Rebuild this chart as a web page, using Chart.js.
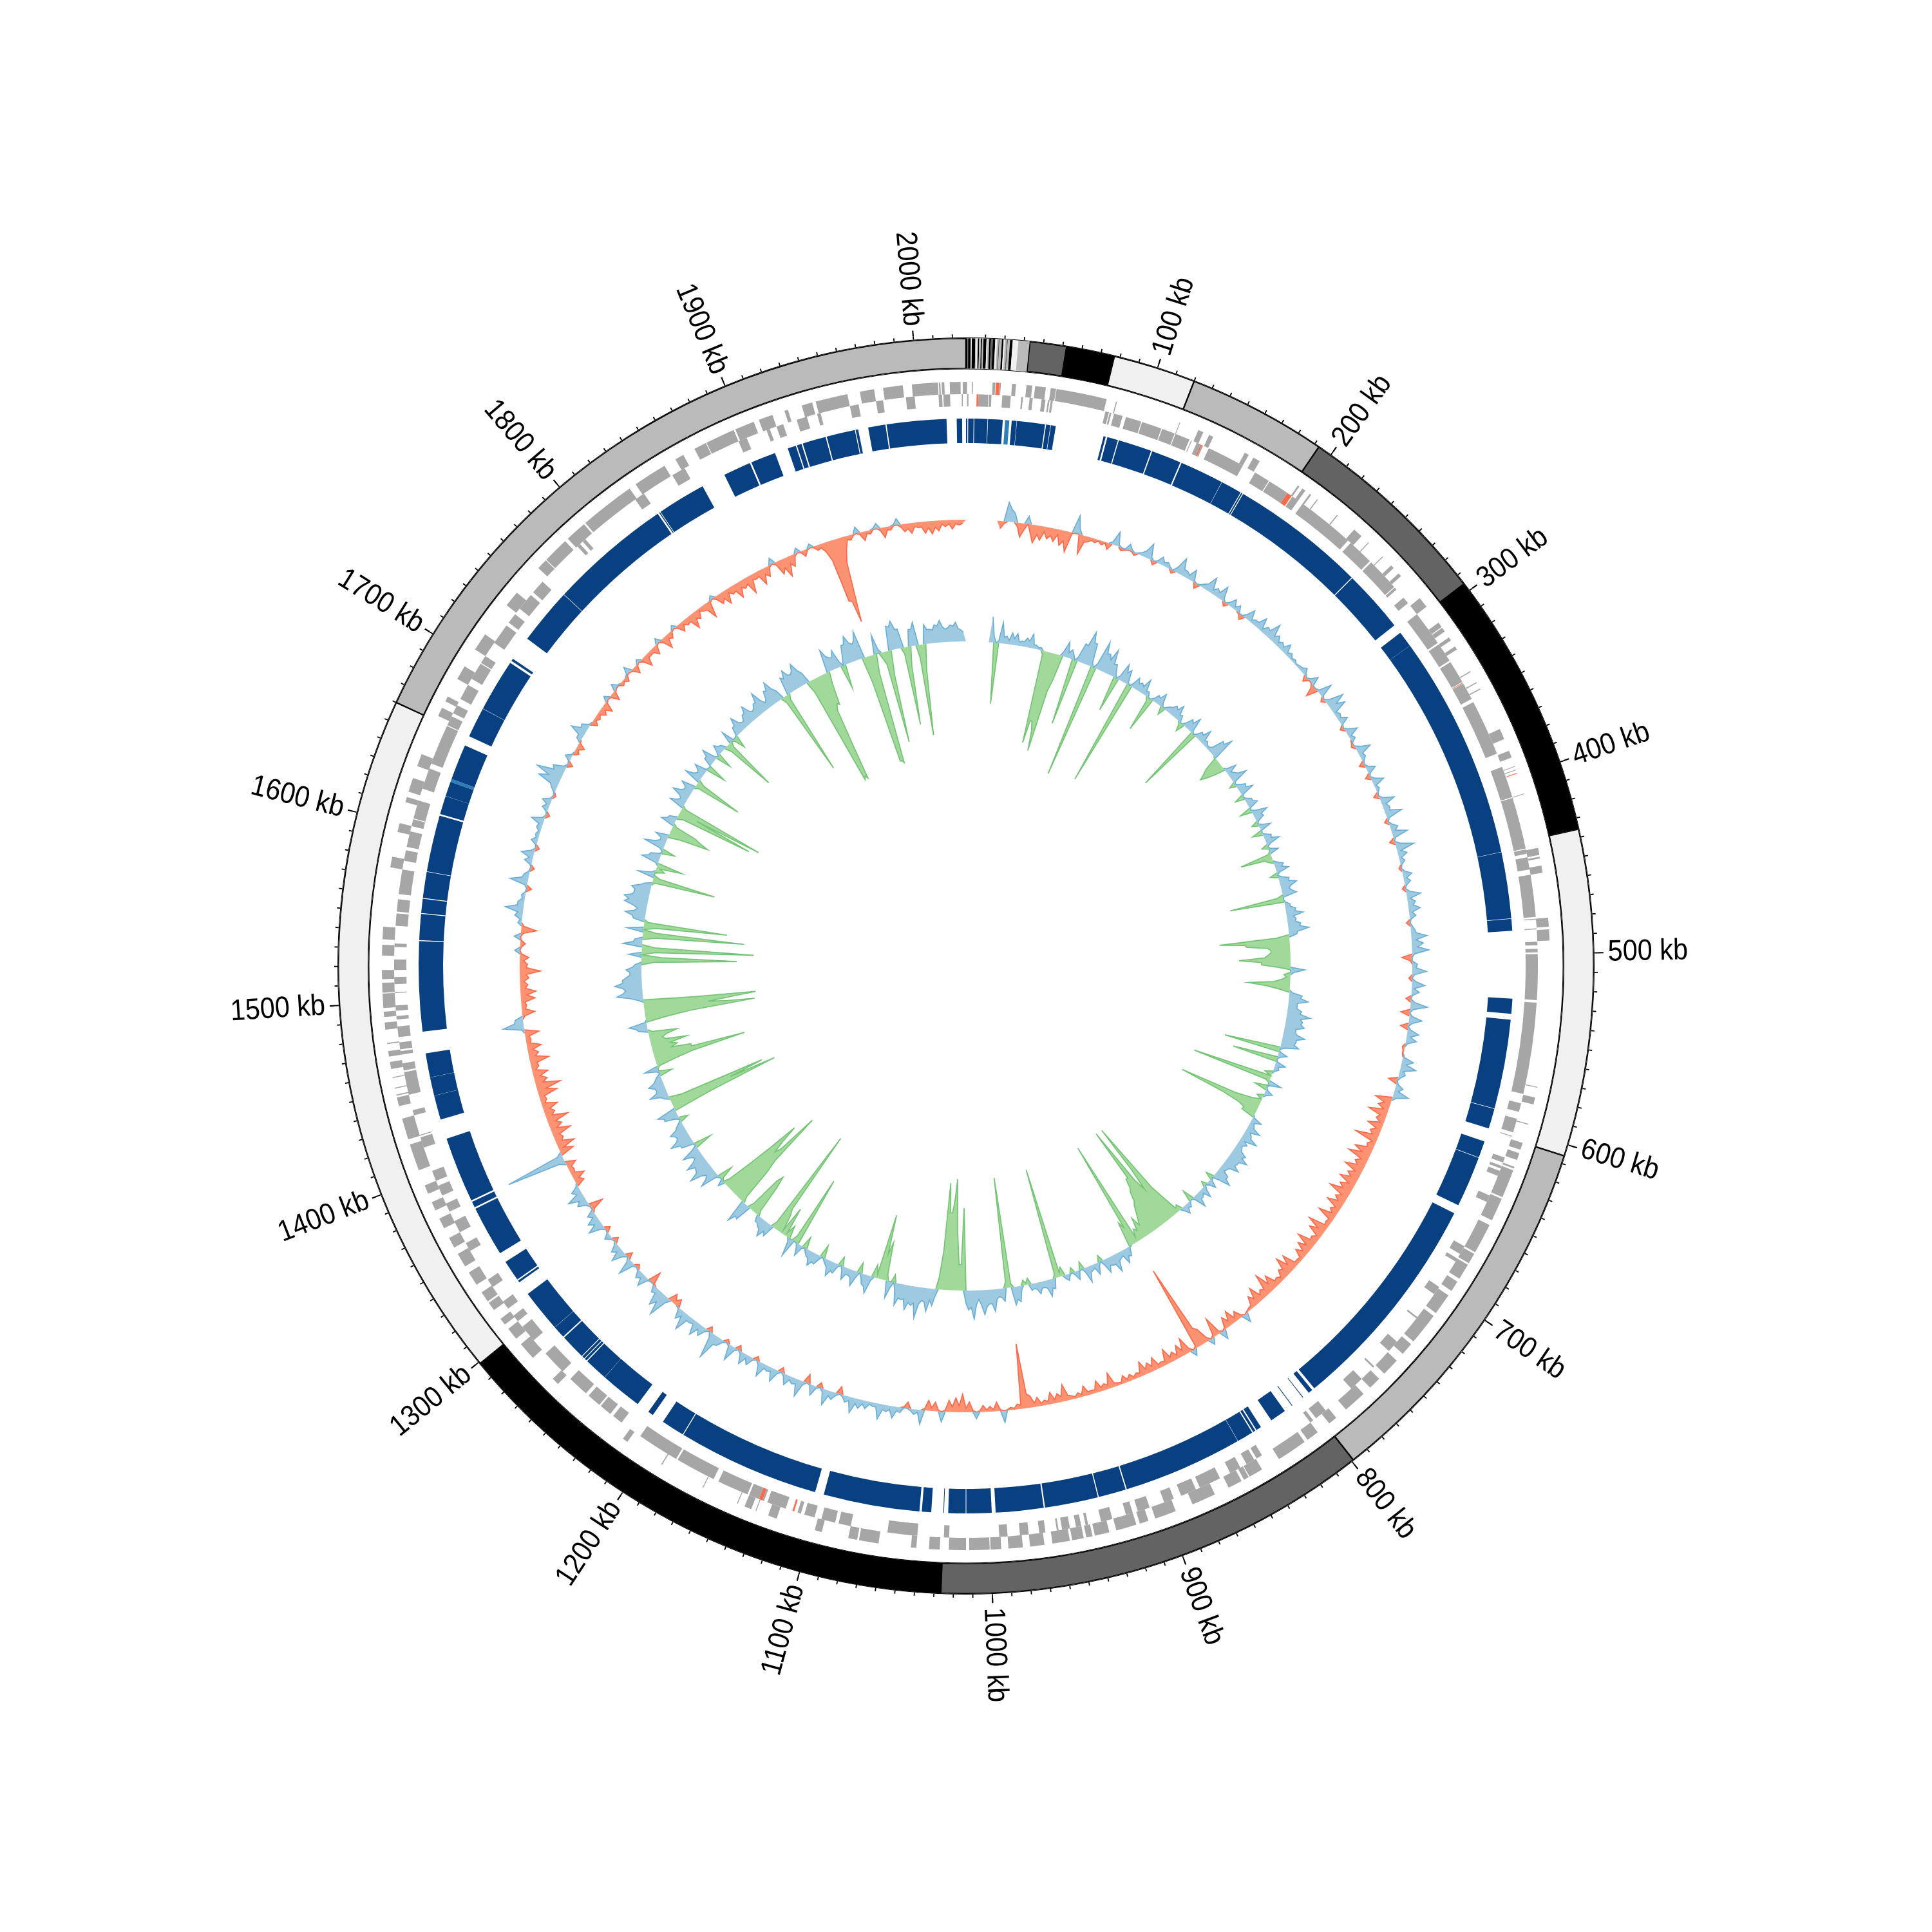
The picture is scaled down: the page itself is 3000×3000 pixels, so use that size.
<!DOCTYPE html>
<html><head><meta charset="utf-8">
<script src="https://cdn.jsdelivr.net/npm/chart.js@4"></script>
<style>html,body{margin:0;padding:0;background:#fff}canvas{position:absolute;left:0;top:0}</style>
</head><body>
<canvas id="rings" width="3000" height="3000"></canvas>
<canvas id="skew" width="3000" height="3000"></canvas>
<canvas id="content" width="3000" height="3000"></canvas>
<script>
const genomeKb = 2027;
const binKb = 2.5;
const tickLabels = ["100 kb","200 kb","300 kb","400 kb","500 kb","600 kb","700 kb","800 kb","900 kb","1000 kb","1100 kb","1200 kb","1300 kb","1400 kb","1500 kb","1600 kb","1700 kb","1800 kb","1900 kb","2000 kb"];
const majorTickKb = [100,200,300,400,500,600,700,800,900,1000,1100,1200,1300,1400,1500,1600,1700,1800,1900,2000];
const bandEnds = [.8,1.1,2.5,3,4.8,5.3,6.1,6.8,7.7,8.3,9,10.6,11.1,12,12.9,13.8,15.1,16,16.8,17.3,18.5,19.4,20.1,21,21.6,22.7,24.1,25,27,32.9,52,77,120,192.6,295.6,435.8,605.9,799,1026.5,1299,1660,2027];
const bandStains = ["k","d","k","l","k","m","l","k","m","k","m","k","l","m","k","d","k","l","m","d","m","k","l","m","d","m","k","l","l","m","d","k","l","m","d","k","l","m","d","k","l","m"];
const deepBlocks = [[0,.8],[1.3,4.5],[4.9,12.7],[13,21.7],[27,29.9],[30.1,46.8],[47.4,50],[50.3,53.2],[82,83.3],[84.3,90.7],[91.3,111.3],[112,129.8],[130.6,156.8],[157,169.5],[170,170.8],[171.3,252.2],[252.7,290],[295.6,305],[305.1,439],[439.2,478.6],[478.9,486],[526,535],[538.5,591.7],[592,604],[612,622],[622.3,652.7],[658,791],[792.6,795.2],[799.4,799.8],[807.4,807.8],[812.9,822.6],[829.9,833],[833.8,835.3],[836,845.7],[845.9,917.3],[918,934.4],[935,966.7],[967.5,996],[998.3,1013.3],[1013.7,1024],[1026.5,1026.9],[1034,1039.6],[1041,1098.3],[1103.6,1188.5],[1189,1202.8],[1210,1213.2],[1221,1246],[1246.1,1260],[1260.6,1262],[1262.5,1264],[1264.5,1279.5],[1280.3,1287.6],[1287.7,1313],[1321.5,1322.7],[1323.5,1336],[1342,1372],[1373,1376.5],[1377.5,1416.7],[1428.5,1443],[1443.1,1454],[1454.1,1468.5],[1481.4,1535],[1535.5,1551],[1551.5,1560],[1560.5,1576],[1576.3,1610],[1611,1622],[1622.1,1631],[1632.8,1654],[1660,1678],[1678.2,1709.6],[1711,1712.5],[1727,1760.7],[1761,1834],[1835,1835.6],[1836,1865],[1879.5,1896],[1897,1912],[1920,1925],[1925.7,1928.5],[1929.3,1943.3],[1944,1961],[1961.5,1963],[1969,1979.3],[1980,2015.5],[2021.5,2024.7]];
const paleBlocks = [[23.1,25.6],[1631,1632.8]];
const outerGenes = [[0,.6],[3.2,3.8],[14.7,16.2],[18.7,19.3],[25.5,27.7],[33.5,36.7],[38.3,44.3],[47,50],[50.3,78.5],[83.8,84.4],[120.8,121.2],[132,135],[138.5,141],[160.5,163],[166,170],[195,196],[198,200],[203,204],[208,208.6],[222,222.6],[234.5,240],[245,245.5],[256,256.5],[263,265],[269,271],[287,293],[304,307],[307.5,310],[314,316],[320,322],[336,336.6],[343,343.6],[347,347.6],[372,378],[385,389],[394,394.4],[396,396.4],[410,410.4],[441,445],[446,447],[451,455],[480,485],[486.5,492.7],[574,574.5],[580,584],[595,595.5],[606,610],[612,616],[620,621],[622,638],[639,652],[655,672],[673,679],[680,689],[691,697],[700,712],[714,732],[734,741],[746,756],[760,767],[772,785],[792,797],[805,812],[814,831],[842,850],[850.5,853.5],[855,863],[871.5,885],[895,907],[911,916],[918,929.5],[933.5,941.7],[943,946.5],[948,954.5],[955.8,965.5],[970,978],[982,990],[994,999.9],[1000.4,1011.7],[1013.5,1023],[1028,1034],[1041,1044],[1062,1073],[1074,1079],[1094,1098],[1120,1125],[1132,1132.5],[1135,1139],[1143,1143.5],[1164,1164.5],[1190,1190.6],[1213,1216],[1263,1267],[1283,1293],[1297,1304],[1307,1311],[1317,1322],[1323,1329],[1334,1342],[1346,1354],[1358,1364],[1370,1376],[1381,1386],[1391,1396],[1405,1420],[1423,1435],[1442,1447],[1448,1448.6],[1452,1452.5],[1458,1458.5],[1463,1467],[1470,1473],[1477,1477.6],[1485,1489],[1492,1495],[1497,1505],[1505.5,1511],[1513,1518],[1526,1532],[1535,1542],[1575,1581],[1595,1600],[1612,1615],[1618,1626],[1633,1640],[1663,1668],[1672,1675],[1686,1694],[1705,1715],[1735,1744],[1762,1768],[1768.4,1783],[1785,1797],[1798,1829],[1833,1852],[1859,1864],[1871,1878],[1878.4,1895],[1896,1907],[1910,1918],[1925,1927],[1935,1941],[1943,1961],[1968,1976],[1981,1992],[1997,2011.5],[2012,2012.8],[2013.5,2015],[2018,2024],[2025.2,2027]];
const innerGenes = [[.6,1.4],[7,12.6],[13,14.4],[20.5,25.3],[31.3,32.2],[36,37.8],[42.8,45],[46.4,47.3],[48,49.2],[79.5,81.5],[82,83],[84.5,89.5],[91.5,100.5],[101,112.5],[113,120.5],[121,129.5],[130.5,131],[134,136.4],[137.2,138],[141.5,163],[171,180],[180.5,192.5],[196,200],[203,236],[238,253],[254,273],[273.5,275],[281,285],[293,313],[314,325],[326,339],[340,350],[352,384],[392,410],[410.5,440],[440.5,443],[445,452],[455,479],[480,480.5],[485.5,486],[493,495],[497,499],[500,526],[527.5,579.6],[585,590],[594,602],[604,604.5],[617,620],[622,623.5],[625,628],[640,644],[672,677],[680,682],[699,704],[720,721],[738,745],[757,758],[767,775],[794,801],[803,805],[838,841.5],[843,848],[852,858.5],[865,877.5],[880,889],[893.5,899.3],[908,915],[918,922],[930,936.5],[944,945.5],[948,951],[954.5,959],[961,962],[968.5,972],[978,983],[990,994.7],[1023,1026],[1041,1058],[1079,1086],[1088,1096],[1100,1106],[1108,1110],[1117,1128],[1130,1131],[1133,1139],[1140,1158],[1161,1184],[1185,1209],[1222,1228],[1230,1237],[1238,1246],[1248,1260],[1266,1280],[1290,1300],[1304,1308],[1313,1318],[1328,1333],[1352,1357],[1364,1371],[1377,1382],[1387,1393],[1396,1402],[1416,1422],[1423,1423.5],[1435,1438],[1447,1460],[1461,1465],[1470,1472],[1473,1477],[1480,1486],[1490,1492],[1495,1498],[1505,1505.5],[1510,1514],[1518,1524],[1531,1533],[1543,1550],[1551,1558],[1561,1575],[1580,1586],[1588,1597],[1600,1604],[1604.5,1615],[1622,1634],[1637,1660],[1660.5,1666],[1668,1673],[1677,1686],[1690,1700],[1700.5,1705],[1714,1726],[1728,1734],[1738,1748],[1750,1758],[1786,1788],[1790,1792],[1828,1834],[1853,1861],[1895,1900],[1912,1914],[1918,1922],[1930,1936],[1942,1944],[1961,1966],[1976,1980],[1993,1998],[2011.5,2013.5],[2014.2,2018],[2024.6,2025.2]];
const redOuterGenes = [[16.5,18.6],[398,398.4],[650,650.5],[778,778.5],[780,780.4],[1665,1665.4]];
const redInnerGenes = [[6,7],[136.4,137.2],[149,149.5],[192.5,195.5],[339.4,339.8],[1112,1113],[1131,1133],[1225,1225.5]];
const skewAtBin = [
null,null,null,null,null,-12,30,14,-22,12,
-28,-22,-18,-20,-24,-32,28,-30,-8,-6,
-6,-10,22,-5,10,-4,5,24,-6,12,
8,-5,26,10,18,-8,6,24,12,22,
-6,14,10,-8,18,8,20,12,26,14,
10,16,8,5,4,10,-8,14,-18,22,
-6,28,24,8,14,-6,18,8,-5,22,
8,-8,14,-8,18,6,-8,22,10,26,
-6,12,24,-8,28,14,8,-4,14,10,
-5,22,12,18,10,-6,6,24,18,26,
-16,8,22,-5,20,12,-8,26,-14,20,
-12,18,16,-4,-2,18,24,10,-14,12,
24,-26,-18,-30,-14,-24,-16,-36,-12,-28,
-34,-18,-30,-20,-28,-22,-34,-18,-26,-14,
-28,-8,-32,-24,-12,-30,-22,-18,-6,-26,
-30,-16,-10,-24,-34,-14,-26,-18,-4,14,
-14,-22,-18,14,-30,10,-24,-137,10,-26,
-20,-14,-24,-8,-20,-16,-22,-8,-10,-12,
-4,-24,-10,-18,-6,-16,-8,-6,-26,-14,
-18,-8,-14,-18,-101,-8,-4,18,-14,-8,
-10,10,-16,-28,-22,-18,16,-14,-16,22,
8,-10,8,18,10,24,6,12,14,24,
10,-12,12,24,-8,16,-14,26,10,16,
-8,20,8,22,-6,14,18,-8,24,-6,
12,40,-8,16,22,8,28,16,-12,-14,
36,26,10,-20,18,12,-6,26,-10,22,
14,-8,10,-8,24,18,12,-22,16,26,
14,-14,-20,-8,-16,94,-22,-28,-14,-30,
-20,-34,-16,-24,-10,-30,-38,-20,-24,-12,
-30,-16,-22,-8,-22,32,12,-20,-8,-22,
-24,-12,-14,-32,-12,-14,8,-8,10,-24,
6,12,28,10,6,-8,28,8,-6,12,
20,-6,10,6,8,20,-6,10,14,-4,
8,34,42,20,-8,10,-8,-12,8,24,
12,-10,-8,-12,-16,8,-14,10,-6,-8,
12,-12,6,-18,-6,-14,8,-20,-10,6,
-14,-10,-24,-14,-8,-26,6,-16,-22,-12,
-24,-14,-28,-10,-24,-16,10,-22,-30,-18,
8,-10,6,-8,-14,-98,-134,-20,-8,10,
-14,-6,8,-16,-6,10,-12,-16,-8,-18,
-20,-16,-10,-14,-8];
const skewBetween = [
null,null,null,null,null,-4,20,-6,-10,-14,
-14,-8,-12,-8,-16,-2,8,-10,-4,-2,
-2,4,3,-2,3,2,10,4,3,5,
3,8,10,6,3,2,10,6,8,4,
5,4,-2,6,4,8,4,10,8,6,
6,4,3,2,5,3,4,-5,3,3,
8,12,4,5,2,6,4,-2,8,6,
3,4,3,6,3,2,5,6,8,4,
4,6,3,8,6,4,2,4,5,3,
6,5,8,5,2,3,8,7,9,4,
-3,6,4,6,4,2,6,5,4,6,
5,6,3,-2,2,8,6,4,3,6,
6,-10,-8,-10,-6,-8,-10,-6,-10,-14,
-10,-12,-10,-12,-10,-14,-10,-10,-8,-8,
-6,-6,-12,-6,-10,-10,-8,-5,-6,-12,
-12,-6,-8,-12,-10,-8,-10,-5,-2,-4,
-6,-8,-3,-4,-4,-6,-30,-4,-6,-8,
-6,-8,-6,-6,-8,-8,-6,-4,-4,-3,
-6,-6,-6,-5,-5,-4,-3,-8,-8,-6,
-5,-4,-6,-22,-6,-2,-1,-2,-3,-3,
-2,-3,-6,-10,-8,-3,-2,-5,-3,4,
3,-2,6,6,8,6,4,6,8,6,
3,4,8,5,3,2,5,8,6,4,
5,6,6,5,3,6,4,5,3,3,
14,8,5,8,6,8,8,2,-6,8,
16,8,-2,2,7,3,4,6,6,8,
4,3,2,6,10,6,-4,4,10,8,
3,-8,-6,-6,10,8,-8,-10,-10,-10,
-12,-10,-10,-6,-8,-14,-12,-10,-6,-10,
-10,-8,-6,-6,4,14,-4,-6,-6,-10,
-8,-6,-10,-10,-6,-3,-2,-1,-4,-4,
3,8,10,4,1,4,10,2,2,6,
6,2,4,3,6,4,2,5,3,2,
12,20,16,4,2,2,-4,-2,8,10,
2,-4,-4,-6,-3,-2,-3,2,-3,2,
-3,-2,-5,-6,-6,-3,-5,-6,-2,-4,
-5,-8,-10,-4,-10,-3,-5,-10,-6,-10,
-10,-10,-8,-8,-10,-3,-4,-14,-12,-4,
-2,-2,-2,-6,-30,-100,-40,-6,-2,-4,
-4,2,-4,-5,2,-4,-8,-6,-8,-10,
-10,-6,-6,-6,-6];
const contentAtBin = [
null,null,null,null,null,40,-95,32,12,18,
18,8,14,22,6,4,-146,-111,-156,-40,
24,14,-104,30,52,36,-179,46,30,40,
20,-55,28,22,-168,18,14,24,8,-56,
12,20,-12,8,16,22,10,-14,16,24,
-106,12,22,8,4,26,36,-22,-39,-18,
18,10,26,-10,14,22,-14,10,16,-18,
24,14,-10,18,-16,12,22,-10,14,-50,
-8,14,20,-12,16,26,12,22,-85,8,
16,26,14,20,32,12,-109,-67,-30,-35,
-80,-45,22,-10,-14,-65,-16,20,30,14,
22,36,26,30,18,34,22,28,-88,14,
-71,16,8,-12,-126,20,-20,12,-10,-14,
-132,-30,-22,16,8,22,12,26,14,10,
22,30,18,26,10,18,28,-12,14,-8,
18,10,22,-18,8,14,-10,-30,-173,-60,
-174,-90,-70,-50,-30,-35,-20,-172,-40,14,
22,10,28,14,22,-10,18,8,24,-12,
14,-8,10,-14,-174,16,26,10,18,8,
-10,-8,24,28,-172,20,12,34,22,38,
14,44,30,-128,-40,-173,-120,-166,-20,26,
36,20,48,30,38,24,34,-12,26,-60,
-102,-20,28,16,-16,24,10,20,-14,16,
24,8,-20,16,22,10,-18,18,-112,28,
-20,-47,-30,-173,20,26,14,10,-50,-60,
26,36,-60,-166,-90,-138,-50,10,-24,30,
14,38,22,32,12,28,-28,20,34,18,
26,10,-14,22,30,-174,-155,8,28,14,
24,10,-20,22,-30,-145,-60,-40,-57,-20,
-45,14,28,-30,-172,-100,-175,8,40,26,
42,30,18,24,10,-148,20,-174,30,12,
-158,26,-130,18,32,14,36,38,24,30,
12,-99,26,-14,-40,28,16,-20,32,10,
20,-64,-40,22,12,-123,-137,24,10,28,
12,22,-77,26,10,20,-30,14,24,-24,
16,8,-86,20,-20,14,26,10,18,28,
12,20,34,10,26,36,16,-134,28,36,
24,38,18,-175,-175,-60,-53,36,20,28,
-37,30,42,26,44,-170,-174,30,-10,-145,
38,44,30,-122,26,36,-142,30,22,28,
34,20,26,30,18];
const contentBetween = [
null,null,null,null,null,10,4,10,6,10,
6,8,10,6,3,-6,-110,-125,-60,8,
8,8,6,28,36,6,8,28,22,18,
8,6,16,4,6,10,10,6,-6,4,
10,6,4,10,12,8,-4,6,12,4,
4,10,6,4,8,24,-2,-30,-30,4,
6,14,4,6,12,2,3,10,2,8,
12,4,6,2,4,10,6,3,-4,-12,
6,10,4,6,14,16,16,-10,2,8,
14,10,12,18,14,-20,-70,-35,-30,-40,
-45,-20,6,-6,-25,-35,4,18,14,14,
20,22,24,18,20,22,20,8,2,4,
2,6,2,-2,-6,2,3,4,-2,-40,
-60,-20,2,6,10,8,14,8,8,12,
18,18,16,12,8,18,10,4,4,6,
6,10,4,2,6,6,-6,-55,-100,-80,
-90,-75,-55,-40,-20,-15,-8,-30,2,12,
8,12,14,12,8,6,6,10,6,2,
6,2,6,-6,-6,14,12,10,10,10,
-3,6,20,-6,-10,14,16,22,26,24,
22,26,20,-40,-90,-140,-120,-60,10,18,
22,26,26,26,22,22,10,10,-10,-40,
-6,6,18,6,10,12,10,6,4,14,
12,4,6,14,12,6,4,6,-10,6,
-6,-6,-40,-10,14,16,10,-8,-70,-10,
24,-10,-80,-100,-110,-90,-10,-4,4,18,
20,24,20,18,16,10,2,20,22,20,
14,4,6,22,-60,-100,-20,12,16,16,
14,6,4,-4,-60,-60,-30,-30,-24,-28,
-6,18,2,-70,-130,-140,-80,20,30,30,
30,24,18,14,-20,-30,-20,-20,14,-20,
-20,-20,-6,20,18,22,30,26,24,18,
-4,-10,6,-6,4,18,2,6,16,10,
-20,-50,-6,14,-10,-30,-6,14,14,16,
14,-6,-10,14,12,2,0,14,4,6,
10,-10,-8,-4,2,14,14,10,18,16,
14,20,18,14,24,22,-10,-8,24,26,
28,24,-20,-170,-120,-50,-20,24,18,8,
14,30,30,30,-40,-170,-30,6,-20,-40,
36,30,-10,-30,26,-20,-40,22,20,26,
24,22,24,20,14];

const stainColors = {k:'#000000',d:'#636363',m:'#bababa',l:'#f0f0f0'};
const GRAY='#a6a6a6', RED='#fb6a4a', DEEP='#084081', PALE='#2b7fb8';
const NONE='rgba(0,0,0,0)';
const R = {majorEnd:990, tickEnd:981, edgeOut:976, bandOut:975, bandIn:927.5, edgeIn:926.5, geneOut:907, geneMid:888, geneIn:869, blueOut:850, blueIn:812};

function blocksToRing(groups){
  const all=[];
  groups.forEach(g=>g.blocks.forEach(b=>all.push({s:b[0],e:b[1],c:g.color})));
  all.sort((a,b)=>a.s-b.s);
  const data=[],colors=[];let cur=0;
  all.forEach(b=>{
    const s=Math.max(b.s,cur); if(b.e<=s) return;
    if(s>cur){data.push(s-cur);colors.push(NONE);}
    data.push(b.e-s);colors.push(b.c);cur=b.e;
  });
  if(cur<genomeKb){data.push(genomeKb-cur);colors.push(NONE);}
  return {data,backgroundColor:colors};
}
function tickRing(positions,width){
  return blocksToRing([{color:'#000',blocks:positions.map(p=>[p-width/2,p+width/2])}]);
}
const ticks=[];for(let k=10;k<genomeKb;k+=10)ticks.push(k);
const bandData=bandEnds.map((e,i)=>e-(i?bandEnds[i-1]:0));
const spacer=w=>({data:[1],backgroundColor:[NONE],weight:w,borderWidth:0});
const solid=(w)=>({data:[1],backgroundColor:['#000'],weight:w,borderWidth:0});
const bandBorder=bandData.map(d=>d>15?1.2:0);

const ringSets=[
 Object.assign(tickRing(majorTickKb,.7),{weight:R.majorEnd-R.tickEnd,borderWidth:0}),
 Object.assign(tickRing(ticks,.6),{weight:R.tickEnd-R.edgeOut,borderWidth:0}),
 solid(R.edgeOut-R.bandOut),
 {data:bandData,backgroundColor:bandStains.map(s=>stainColors[s]),weight:R.bandOut-R.bandIn,borderWidth:bandBorder,borderColor:'#000',borderAlign:'inner'},
 solid(R.bandIn-R.edgeIn),
 spacer(R.edgeIn-R.geneOut),
 Object.assign(blocksToRing([{color:GRAY,blocks:outerGenes},{color:RED,blocks:redOuterGenes}]),{weight:R.geneOut-R.geneMid,borderWidth:0}),
 Object.assign(blocksToRing([{color:GRAY,blocks:innerGenes},{color:RED,blocks:redInnerGenes}]),{weight:R.geneMid-R.geneIn,borderWidth:0}),
 spacer(R.geneIn-R.blueOut),
 Object.assign(blocksToRing([{color:DEEP,blocks:deepBlocks},{color:PALE,blocks:paleBlocks}]),{weight:R.blueOut-R.blueIn,borderWidth:0})
];

const labelPlugin={id:'tickText',afterDraw(chart){
  const c=chart.ctx,cx=1500,cy=1500;
  c.save();
  c.fillStyle='#000';
  c.font='46px "Liberation Sans",sans-serif';
  c.textBaseline='middle';
  majorTickKb.forEach((k,i)=>{
    const a=k/genomeKb*2*Math.PI, right=a<Math.PI;
    const r=997;
    const x=cx+r*Math.sin(a), y=cy-r*Math.cos(a);
    c.save();c.translate(x,y);
    c.rotate(right?a-Math.PI/2:a+Math.PI/2);
    c.scale(.9,1);
    c.textAlign=right?'left':'right';
    c.fillText(tickLabels[i],0,0);
    c.restore();
  });
  c.restore();
}};

new Chart(document.getElementById('rings'),{type:'doughnut',
 data:{datasets:ringSets},
 options:{responsive:false,animation:false,devicePixelRatio:1,radius:R.majorEnd,cutout:(R.blueIn/R.majorEnd*100)+'%',
  plugins:{legend:{display:false},tooltip:{enabled:false}}},
 plugins:[labelPlugin]});

function weave(a,b){const out=[];a.forEach((v,i)=>{out.push(v);out.push(b[i]);});return out;}
function upPart(v){return v.map(x=>x==null?0:Math.max(x,0));}
function downPart(v){return v.map(x=>x==null?0:Math.min(x,0));}
function edge(v,sign){return v.map((x,i)=>{
  if(x==null) return null;
  if(x*sign>0) return x;
  const p=v[(i-1+v.length)%v.length],n=v[(i+1)%v.length];
  return ((p!=null&&p*sign>0)||(n!=null&&n*sign>0))?0:null;
});}
function track(id,values,baseR,upLine,upFill,downLine,downFill){
  const labels=values.map((_,i)=>i*binKb+' kb');
  const lw=1.7;
  const common={pointRadius:0,spanGaps:false,tension:0};
  new Chart(document.getElementById(id),{type:'radar',
   data:{labels,datasets:[
    Object.assign({data:edge(values,1),borderColor:upLine,borderWidth:lw,fill:false,backgroundColor:NONE},common),
    Object.assign({data:edge(values,-1),borderColor:downLine,borderWidth:lw,fill:false,backgroundColor:NONE},common),
    Object.assign({data:upPart(values),borderWidth:0,borderColor:NONE,backgroundColor:upFill,fill:{value:0}},common),
    Object.assign({data:downPart(values),borderWidth:0,borderColor:NONE,backgroundColor:downFill,fill:{value:0}},common)
   ]},
   options:{responsive:false,animation:false,devicePixelRatio:1,layout:{padding:0},
    plugins:{legend:{display:false},tooltip:{enabled:false}},
    scales:{r:{min:-baseR,max:1500-baseR,display:false,ticks:{display:false},pointLabels:{display:false},grid:{display:false},angleLines:{display:false}}}}
  });
}
track('skew',weave(skewAtBin,skewBetween),693,'#6baed6','#9ecae1','#fb6a4a','#fc9272');
track('content',weave(contentAtBin,contentBetween),504,'#6baed6','#9ecae1','#74c476','#a1d99b');
</script>
</body></html>
